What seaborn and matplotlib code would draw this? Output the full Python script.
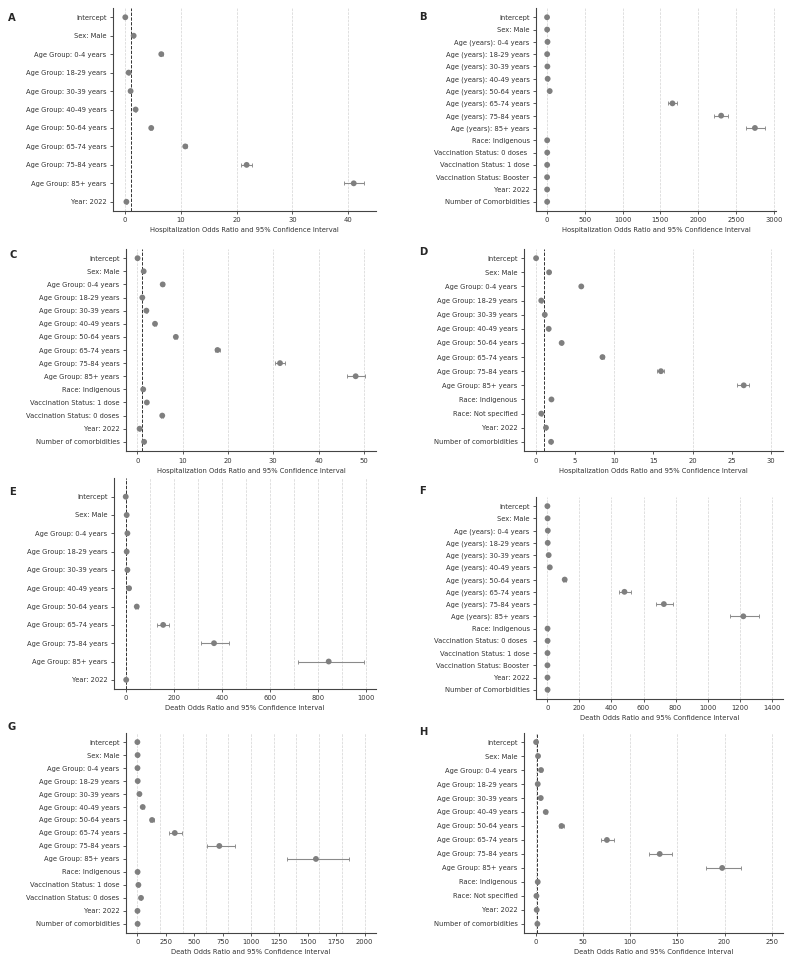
import numpy as np
import matplotlib
matplotlib.use("Agg")
import matplotlib.pyplot as plt
import seaborn as sns

# -----------------------------
# Row labels
# -----------------------------
ages = ["0-4", "18-29", "30-39", "40-49", "50-64", "65-74", "75-84", "85+"]
age_group = ["Age Group: %s years" % a for a in ages]
age_years = ["Age (years): %s years" % a for a in ages]

labels_a = ["Intercept", "Sex: Male"] + age_group + ["Year: 2022"]
labels_b = (["Intercept", "Sex: Male"] + age_years +
            ["Race: Indigenous", "Vaccination Status: 0 doses ", "Vaccination Status: 1 dose",
             "Vaccination Status: Booster", "Year: 2022", "Number of Comorbidities"])
labels_c = (["Intercept", "Sex: Male"] + age_group +
            ["Race: Indigenous", "Vaccination Status: 1 dose", "Vaccination Status: 0 doses",
             "Year: 2022", "Number of comorbidities"])
labels_d = (["Intercept", "Sex: Male"] + age_group +
            ["Race: Indigenous", "Race: Not specified", "Year: 2022", "Number of comorbidities"])

# -----------------------------
# Odds ratios and 95% CI
# -----------------------------
or_a = [0.05, 1.55, 6.5, 0.65, 1.0, 1.9, 4.7, 10.8, 21.8, 41.0, 0.25]
lo_a = [0.04, 1.5, 6.2, 0.6, 0.95, 1.8, 4.55, 10.5, 20.8, 39.3, 0.22]
hi_a = [0.06, 1.6, 6.8, 0.7, 1.05, 2.0, 4.85, 11.1, 22.7, 42.8, 0.28]

or_b = [0.01, 1.4, 6.0, 1.2, 4.5, 8.0, 35.0, 1660, 2305, 2752, 1.6, 2.3, 1.2, 0.6, 1.1, 1.3]
lo_b = [0.005, 1.3, 4.8, 0.9, 3.6, 6.6, 30.0, 1605, 2214, 2634, 1.4, 2.1, 1.0, 0.5, 1.0, 1.2]
hi_b = [0.02, 1.5, 7.5, 1.6, 5.6, 9.7, 41.0, 1715, 2392, 2883, 1.8, 2.5, 1.4, 0.7, 1.2, 1.4]

or_c = [0.05, 1.4, 5.6, 1.1, 2.0, 3.9, 8.5, 17.7, 31.5, 48.2, 1.3, 2.1, 5.5, 0.5, 1.5]
lo_c = [0.04, 1.35, 5.4, 1.0, 1.9, 3.7, 8.2, 17.2, 30.3, 46.3, 1.2, 2.0, 5.3, 0.45, 1.45]
hi_c = [0.06, 1.45, 5.8, 1.2, 2.1, 4.1, 8.8, 18.2, 32.7, 50.2, 1.4, 2.2, 5.7, 0.55, 1.55]

or_d = [0.04, 1.7, 5.8, 0.7, 1.15, 1.65, 3.3, 8.5, 15.95, 26.5, 2.0, 0.7, 1.3, 1.95]
lo_d = [0.03, 1.65, 5.7, 0.65, 1.1, 1.6, 3.2, 8.3, 15.5, 25.6, 1.9, 0.65, 1.25, 1.9]
hi_d = [0.05, 1.75, 5.9, 0.75, 1.2, 1.7, 3.4, 8.7, 16.3, 27.2, 2.1, 0.75, 1.35, 2.0]

or_e = [0.02, 4.0, 7.0, 4.0, 7.0, 14.0, 46.0, 156, 368, 846, 2.0]
lo_e = [0.01, 3.5, 5.0, 3.0, 5.5, 10.0, 40.0, 130, 314, 717, 1.8]
hi_e = [0.03, 4.5, 9.5, 5.5, 9.0, 19.0, 53.0, 182, 432, 992, 2.2]

or_f = [0.01, 1.3, 2.5, 2.0, 8.0, 15.0, 108, 481, 727, 1223, 1.0, 1.2, 0.6, 0.3, 0.5, 1.1]
lo_f = [0.005, 1.2, 1.5, 1.2, 6.0, 12.0, 98, 444, 677, 1137, 0.9, 1.0, 0.5, 0.25, 0.45, 1.0]
hi_f = [0.02, 1.4, 4.0, 3.2, 10.5, 19.0, 119, 521, 783, 1319, 1.1, 1.4, 0.7, 0.35, 0.55, 1.2]

or_g = [0.1, 2.0, 1.0, 3.0, 18.0, 47.0, 129, 329, 721, 1571, 2.0, 9.0, 32.0, 1.0, 2.0]
lo_g = [0.05, 1.7, 0.5, 2.0, 14.0, 40.0, 110, 279, 609, 1318, 1.8, 8.0, 29.0, 0.9, 1.9]
hi_g = [0.2, 2.3, 2.0, 4.5, 23.0, 55.0, 150, 394, 859, 1862, 2.2, 10.0, 35.0, 1.1, 2.1]

or_h = [0.05, 2.1, 5.3, 1.8, 5.0, 10.3, 27.0, 75.2, 131.2, 197.5, 1.8, 0.4, 0.7, 1.4]
lo_h = [0.03, 1.9, 4.6, 1.4, 4.4, 9.2, 24.5, 68.4, 119.5, 180.5, 1.6, 0.3, 0.6, 1.3]
hi_h = [0.08, 2.3, 6.1, 2.3, 5.7, 11.5, 29.8, 83.0, 144.7, 217.4, 2.0, 0.5, 0.8, 1.5]

hosp_label = "Hospitalization Odds Ratio and 95% Confidence Interval"
death_label = "Death Odds Ratio and 95% Confidence Interval"

# -----------------------------
# Panel setup: letter, data, axes rect, xlim, grid step, ref line, letter pos, top pad
# -----------------------------
panels = [
    ("A", labels_a, or_a, lo_a, hi_a, hosp_label, [0.1427, 0.7818, 0.3321, 0.2099], (-2.15, 45), 10, True, (12, 18), None),
    ("B", labels_b, or_b, lo_b, hi_b, hosp_label, [0.6768, 0.7818, 0.3030, 0.2099], (-146, 3031), 500, False, (423, 17), None),
    ("C", labels_c, or_c, lo_c, hi_c, hosp_label, [0.1591, 0.5336, 0.3157, 0.2089], (-2.5, 52.7), 10, True, (13, 255), None),
    ("D", labels_d, or_d, lo_d, hi_d, hosp_label, [0.6616, 0.5336, 0.3270, 0.2089], (-1.5, 31.5), 10, True, (423, 252), None),
    ("E", labels_a, or_e, lo_e, hi_e, death_label, [0.1439, 0.2875, 0.3308, 0.2182], (-49, 1043), 100, True, (12, 492), 1.02),
    ("F", labels_b, or_f, lo_f, hi_f, death_label, [0.6768, 0.2772, 0.3119, 0.2089], (-71, 1471), 200, False, (422, 491), None),
    ("G", labels_c, or_g, lo_g, hi_g, death_label, [0.1591, 0.0352, 0.3157, 0.2068], (-100, 2100), 200, False, (12, 727), None),
    ("H", labels_d, or_h, lo_h, hi_h, death_label, [0.6616, 0.0352, 0.3270, 0.2068], (-12.8, 262), 50, True, (423, 732), None),
]

sns.set_style("ticks")
plt.rcParams["font.family"] = ["DejaVu Sans"]

W, H = 792, 967
fig = plt.figure(figsize=(W / 72, H / 72), dpi=72)

for (letter, labels, ors, los, his, xlabel, rect, xlim, step, refline, lpos, top_pad) in panels:
    ax = fig.add_axes(rect)
    ors = np.array(ors)
    err = np.vstack([ors - np.array(los), np.array(his) - ors])

    for g in np.arange(0, xlim[1], step):
        ax.axvline(g, color="#d4d4d4", ls="--", lw=0.7, zorder=0)
    if refline:
        ax.axvline(1, color="#222222", ls="--", lw=0.9, zorder=1)

    ax.errorbar(ors, labels, xerr=err, fmt="none", ecolor="#8a8a8a",
                elinewidth=1.1, capsize=2.2, capthick=0.9, zorder=2)
    sns.scatterplot(x=ors, y=labels, ax=ax, color="#7f7f7f", s=34,
                    edgecolor="none", zorder=3, legend=False)

    n = len(labels)
    pad = 0.05 * (n - 1)
    ax.set_xlim(*xlim)
    ax.set_ylim(n - 1 + pad, -(top_pad if top_pad is not None else pad))
    ax.set_xlabel(xlabel, fontsize=6.8, color="#333333")
    ax.set_ylabel("")
    ax.tick_params(axis="both", labelsize=6.8, length=3, width=0.8, colors="#333333")
    sns.despine(ax=ax)
    for s in ["left", "bottom"]:
        ax.spines[s].set_color("#444444")
        ax.spines[s].set_linewidth(1.1)

    fig.text(lpos[0] / W, 1 - lpos[1] / H, letter, fontsize=10, fontweight="bold",
             ha="center", va="center")

fig.savefig("out.png", dpi=72)
